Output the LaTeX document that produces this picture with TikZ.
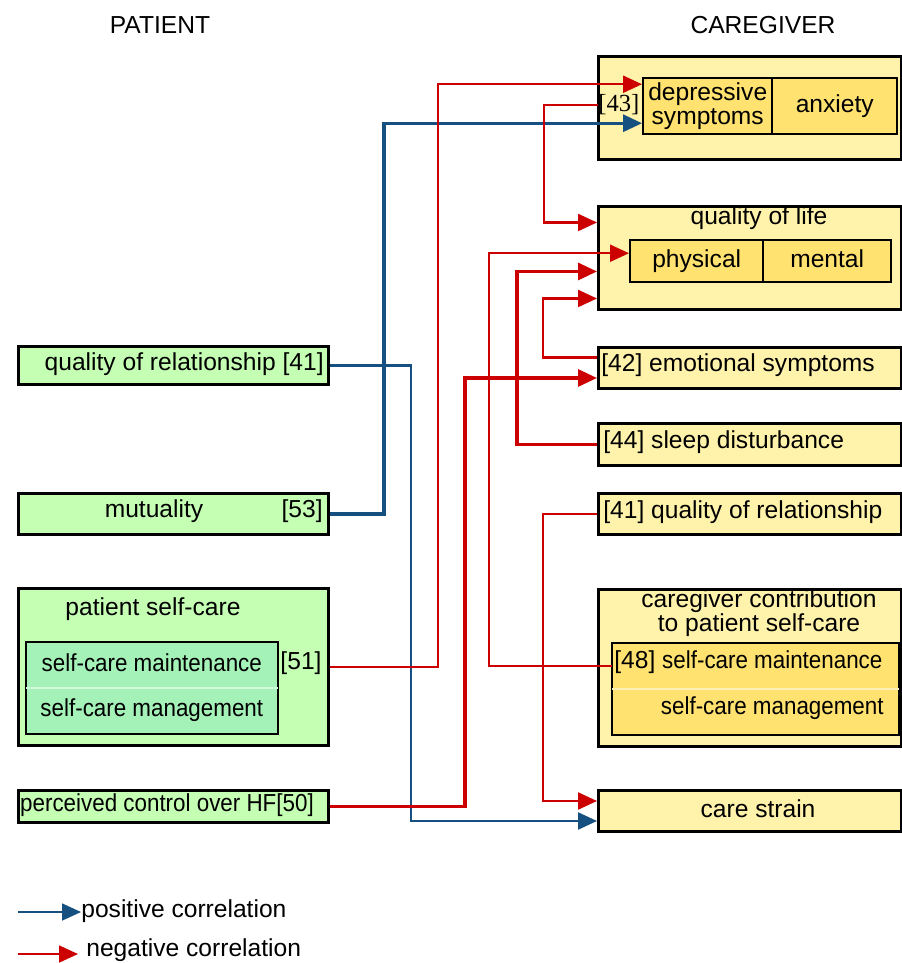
\documentclass[tikz,border=0pt]{standalone}
\usepackage{fontspec}
\setmainfont{Liberation Sans}
\newfontfamily\bracketfont{Liberation Serif}
\usetikzlibrary{arrows.meta}

\definecolor{patgreen}{RGB}{196,255,180}
\definecolor{patmint}{RGB}{165,242,185}
\definecolor{cgyellow}{RGB}{255,242,170}
\definecolor{cginner}{RGB}{255,226,112}
\definecolor{posblue}{RGB}{22,80,128}
\definecolor{negred}{RGB}{204,0,0}

\newcommand{\narrow}[1]{\scalebox{0.91}[1]{#1}}

\begin{document}
\begin{tikzpicture}[x=0.02cm,y=-0.02cm,inner sep=0pt,font=\fontsize{14}{14}\selectfont,
    posline/.style={draw=posblue,line width=1.3pt,-{Triangle[length=0.38cm,width=0.34cm]}},
    negline/.style={draw=negred,line width=1.3pt,-{Triangle[length=0.38cm,width=0.34cm]}},
    thickline/.style={line width=1.8pt},
    evenline/.style={text height=10pt,text depth=3pt}]
    \useasboundingbox (0,0) rectangle (902,963);

    \node (hpat) at (160,25) {PATIENT};
    \node (hcg) at (763,25) {CAREGIVER};

    % patient side
    \begin{scope}[every node/.style={draw=black,line width=1.7pt,fill=patgreen,anchor=north west,minimum width=6.2cm}]
        \node[minimum height=0.76cm] (pqor) at (17,345) {};
        \node[minimum height=0.82cm] (mut) at (17,492) {};
        \node[minimum height=3.14cm] (psc) at (17,587) {};
        \node[minimum height=0.64cm] (perc) at (17,789) {};
    \end{scope}
    \begin{scope}[every node/.style={fill=patmint,anchor=north west,minimum width=5.02cm,evenline}]
        \node[minimum height=0.9cm] (psm) at (26,642) {\narrow{self-care maintenance}};
        \node[minimum height=0.92cm] (psg) at (26,687) {\narrow{self-care management}};
    \end{scope}
    \draw[line width=1.1pt] (psm.north west) rectangle (psg.south east);
    \draw[white!50!patmint,line width=1pt] (psm.south west) -- (psm.south east);
    \node[anchor=east] (pqort) at (324,364) {quality of relationship [41]};
    \node (mutt) at (154,511) {mutuality};
    \node[anchor=east] (mutr) at (323,511) {[53]};
    \node (psct) at (153,609) {patient self-care};
    \node (p51) at (301,663) {[51]};
    \node (perct) at (167,805) {\narrow{perceived control over HF[50]}};

    % caregiver side
    \begin{scope}[every node/.style={draw=black,line width=1.7pt,fill=cgyellow,anchor=north west,minimum width=6.06cm}]
        \node[minimum height=2.06cm] (dep) at (597,55) {};
        \node[minimum height=2.06cm] (qol) at (597,205) {};
        \node[minimum height=0.82cm] (emo) at (597,346) {};
        \node[minimum height=0.84cm] (sleep) at (597,422) {};
        \node[minimum height=0.82cm] (cqor) at (597,492) {};
        \node[minimum height=3.14cm] (cgc) at (597,588) {};
        \node[minimum height=0.82cm] (cs) at (597,789) {};
    \end{scope}
    \begin{scope}[every node/.style={draw=black,line width=1.4pt,fill=cginner,anchor=north west}]
        \node[minimum width=2.58cm,minimum height=1.12cm,align=center] (depsym) at (642,77) {depressive\\symptoms};
        \node[minimum width=2.5cm,minimum height=1.12cm,evenline] (anx) at (771,77) {anxiety};
        \node[minimum width=2.66cm,minimum height=0.84cm,evenline] (phys) at (629,239) {physical};
        \node[minimum width=2.56cm,minimum height=0.84cm,evenline] (ment) at (762,239) {mental};
    \end{scope}
    \begin{scope}[every node/.style={fill=cginner,anchor=north west,minimum width=5.72cm}]
        \node[minimum height=0.9cm] (cgsm) at (612,643) {};
        \node[minimum height=0.92cm] (cgsg) at (612,688) {};
    \end{scope}
    \draw[line width=1.1pt] (cgsm.north west) rectangle (cgsg.south east);
    \draw[white!50!cginner,line width=1pt] (cgsm.south west) -- (cgsm.south east);
    \node[anchor=west,font=\bracketfont\fontsize{14}{14}\selectfont] (n43) at (598,105) {[43]};
    \node (qolt) at (759,218) {quality of life};
    \node[anchor=west] (emot) at (601,365) {[42] emotional symptoms};
    \node[anchor=west] (sleept) at (603,442) {[44] sleep disturbance};
    \node[anchor=west] (cqort) at (603,512) {[41] quality of relationship};
    \node[align=center] (cgct) at (759,613) {caregiver contribution\\ to patient self-care};
    \node[anchor=west] (cgsmt) at (614,662) {[48] \narrow{self-care maintenance}};
    \node[anchor=east] (cgsgt) at (884,708) {\narrow{self-care management}};
    \node (cst) at (758,809) {care strain};

    % correlations
    \draw[posline,thickline] (mut.east) -- ++(54,0) |- ([yshift=-0.34cm]depsym.west);
    \draw[posline] (pqor.east) -- ++(81,0) |- ([yshift=-0.2cm]cs.west);
    \draw[negline] (psc.east) -- ++(108,0) |- ([yshift=0.44cm]depsym.west);
    \draw[negline] (n43.west) -- ++(-54,0) |- ([yshift=0.71cm]qol.west);
    \draw[negline] (cgsm.west) -- ++(-123,0) |- ([yshift=0.16cm]phys.west);
    \draw[negline,thickline] (sleep.west) -- ++(-80,0) |- ([yshift=-0.27cm]qol.west);
    \draw[negline] ([yshift=0.21cm]emo.west) -- ++(-54,0) |- ([yshift=-0.81cm]qol.west);
    \draw[negline,thickline] (perc.east) -- ++(135,0) |- ([yshift=-0.2cm]emo.west);
    \draw[negline] (cqor.west) -- ++(-54,0) |- ([yshift=0.2cm]cs.west);

    % legend
    \coordinate (posstart) at (18,912);
    \node[anchor=west] (poslbl) at (81,911) {positive correlation};
    \draw[posline,line width=1pt] (posstart) -- (poslbl.west |- posstart);
    \coordinate (negstart) at (18,954);
    \node[anchor=west] (neglbl) at (86,950) {negative correlation};
    \draw[negline,line width=1pt] (negstart) -- ([xshift=-0.16cm]neglbl.west |- negstart);
\end{tikzpicture}
\end{document}
